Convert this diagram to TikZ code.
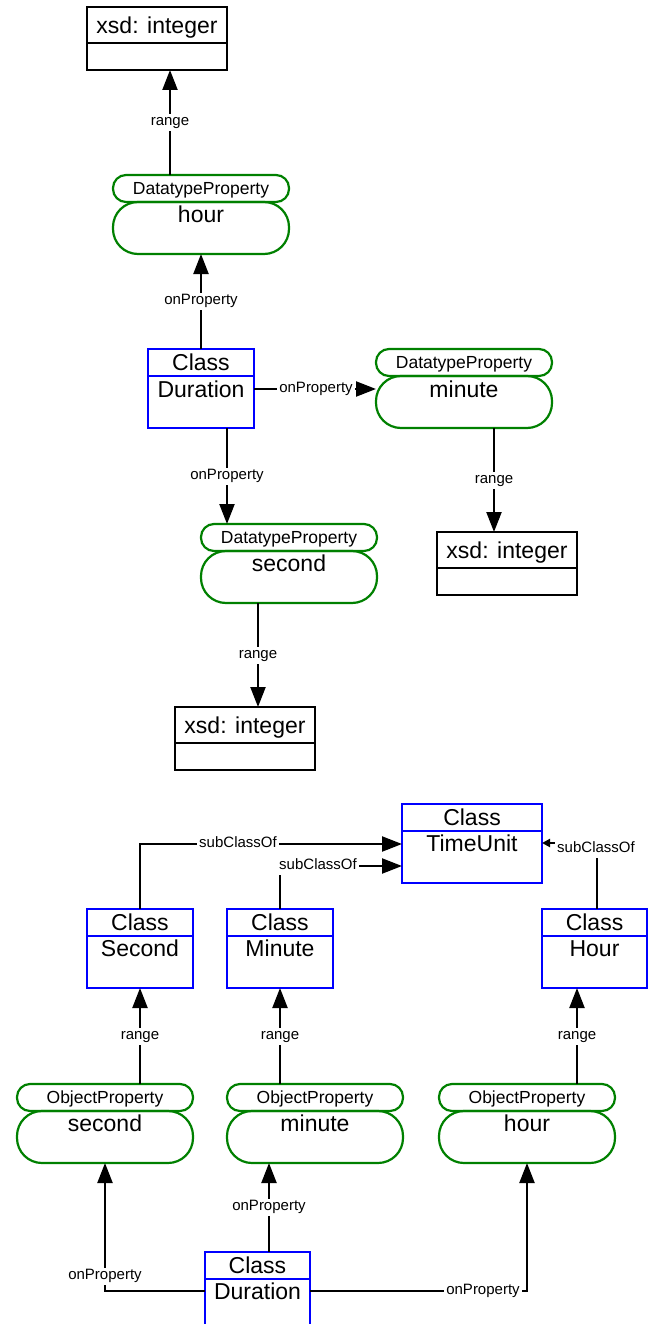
\documentclass[tikz,border=0pt]{standalone}
\usepackage{fontspec}
\setmainfont{Liberation Sans}
\usetikzlibrary{arrows.meta}
\definecolor{clsblue}{RGB}{0,0,255}
\definecolor{pgreen}{RGB}{0,128,0}
\tikzset{
  box/.style={draw, line width=2.2pt, inner sep=0pt, outer sep=0pt, anchor=north west},
  clshead/.style={box, draw=clsblue, minimum height=27pt, font=\fontsize{23}{26}\selectfont, text height=16.5pt, text depth=0pt},
  clsbody/.style={box, draw=clsblue, minimum height=52pt},
  xsdhead/.style={box, draw=black, minimum width=140pt, minimum height=36pt, font=\fontsize{23}{26}\selectfont, text height=16.5pt, text depth=0pt},
  xsdbody/.style={box, draw=black, minimum width=140pt, minimum height=27pt},
  pillhead/.style={box, draw=pgreen, rounded corners=13pt, minimum width=176pt, minimum height=27pt, font=\fontsize{17.5}{20}\selectfont, text height=12.5pt, text depth=0pt},
  pillbody/.style={box, draw=pgreen, rounded corners=25pt, minimum width=176pt, minimum height=52pt},
  main/.style={inner sep=0pt, font=\fontsize{23}{26}\selectfont, text height=16.5pt, text depth=0pt},
  lbl/.style={fill=white, inner xsep=2pt, inner ysep=2pt, font=\fontsize{15}{17}\selectfont, text height=9.5pt, text depth=3.5pt},
  conn/.style={line width=2.2pt},
  arr/.style={conn, -{Triangle[length=20pt,width=15pt]}},
  smallarr/.style={conn, -{Triangle[length=8pt,width=8pt]}},
}
\begin{document}
\begin{tikzpicture}[x=1pt,y=-1pt]
\useasboundingbox (0,0) rectangle (652,1324);
\clip (0,0) rectangle (652,1324);

% ---------- upper diagram ----------
\node[xsdhead] (xsdAh) at (87,7) {xsd: integer};
\node[xsdbody] (xsdAb) at (xsdAh.south west) {};

\node[pillhead] (hourDPh) at (113,175) {DatatypeProperty};
\node[pillbody] (hourDPb) at (hourDPh.south west) {};
\node[main] (hourDPt) at ([yshift=-12pt]hourDPb.north) {hour};

\node[clshead, minimum width=106pt] (durAh) at (148,349) {Class};
\node[clsbody, minimum width=106pt] (durAb) at (durAh.south west) {};
\node[main] (durAt) at ([yshift=-13pt]durAb.north) {Duration};

\node[pillhead] (minuteDPh) at (376,349) {DatatypeProperty};
\node[pillbody] (minuteDPb) at (minuteDPh.south west) {};
\node[main] (minuteDPt) at ([yshift=-13pt]minuteDPb.north) {minute};

\node[xsdhead] (xsdBh) at (437,532) {xsd: integer};
\node[xsdbody] (xsdBb) at (xsdBh.south west) {};

\node[pillhead] (secondDPh) at (201,524) {DatatypeProperty};
\node[pillbody] (secondDPb) at (secondDPh.south west) {};
\node[main] (secondDPt) at ([yshift=-12pt]secondDPb.north) {second};

\node[xsdhead] (xsdCh) at (175,707) {xsd: integer};
\node[xsdbody] (xsdCb) at (xsdCh.south west) {};

\draw[arr] (hourDPh.north -| 170,0) -- (xsdAb.south -| 170,0);
\node[lbl] (l1) at (170,123) {range};
\draw[arr] (durAh.north -| 201,0) -- (hourDPb.south -| 201,0);
\node[lbl] (l2) at (201,301) {onProperty};
\draw[arr] (durAb.east |- 0,389) -- (minuteDPb.west |- 0,389);
\node[lbl] (l3) at (316,389) {onProperty};
\draw[arr] (minuteDPb.south -| 494,0) -- (xsdBh.north -| 494,0);
\node[lbl] (l4) at (494,480) {range};
\draw[arr] (durAb.south -| 227,0) -- (secondDPh.north -| 227,0);
\node[lbl] (l5) at (227,476) {onProperty};
\draw[arr] (secondDPb.south -| 258,0) -- (xsdCh.north -| 258,0);
\node[lbl] (l6) at (258,655) {range};

% ---------- lower diagram ----------
\node[clshead, minimum width=140pt] (tuh) at (402,804) {Class};
\node[clsbody, minimum width=140pt] (tub) at (tuh.south west) {};
\node[main] (tut) at ([yshift=-12pt]tub.north) {TimeUnit};

\node[clshead, minimum width=106pt] (sech) at (87,909) {Class};
\node[clsbody, minimum width=106pt] (secb) at (sech.south west) {};
\node[main] (sect) at ([yshift=-12pt]secb.north) {Second};

\node[clshead, minimum width=106pt] (minh) at (227,909) {Class};
\node[clsbody, minimum width=106pt] (minb) at (minh.south west) {};
\node[main] (mint) at ([yshift=-12pt]minb.north) {Minute};

\node[clshead, minimum width=105pt] (hrh) at (542,909) {Class};
\node[clsbody, minimum width=105pt] (hrb) at (hrh.south west) {};
\node[main] (hrt) at ([yshift=-12pt]hrb.north) {Hour};

\node[pillhead] (secOPh) at (17,1084) {ObjectProperty};
\node[pillbody] (secOPb) at (secOPh.south west) {};
\node[main] (secOPt) at ([yshift=-12pt]secOPb.north) {second};

\node[pillhead] (minOPh) at (227,1084) {ObjectProperty};
\node[pillbody] (minOPb) at (minOPh.south west) {};
\node[main] (minOPt) at ([yshift=-12pt]minOPb.north) {minute};

\node[pillhead] (hrOPh) at (439,1084) {ObjectProperty};
\node[pillbody] (hrOPb) at (hrOPh.south west) {};
\node[main] (hrOPt) at ([yshift=-12pt]hrOPb.north) {hour};

\node[clshead, minimum width=105pt] (durBh) at (205,1252) {Class};
\node[clsbody, minimum width=105pt] (durBb) at (durBh.south west) {};
\node[main] (durBt) at ([yshift=-12pt]durBb.north) {Duration};

\draw[arr] (sech.north -| 140,0) |- (tub.west |- 0,844);
\node[lbl] (m1) at (238,844) {subClassOf};
\draw[arr] (minh.north -| 280,0) |- (tub.west |- 0,866);
\node[lbl] (m2) at (318,866) {subClassOf};
\draw[smallarr] (hrh.north -| 597,0) |- (tub.east |- 0,843);
\node[lbl] (m3) at (596,849) {subClassOf};

\draw[arr] (secOPh.north -| 140,0) -- (secb.south -| 140,0);
\node[lbl] (m4) at (140,1036) {range};
\draw[arr] (minOPh.north -| 280,0) -- (minb.south -| 280,0);
\node[lbl] (m5) at (280,1036) {range};
\draw[arr] (hrOPh.north -| 577,0) -- (hrb.south -| 577,0);
\node[lbl] (m6) at (577,1036) {range};

\draw[arr] (durBb.west |- 0,1291) -| (secOPb.south -| 105,0);
\node[lbl] (m7) at (105,1276) {onProperty};
\draw[arr] (durBh.north -| 269,0) -- (minOPb.south -| 269,0);
\node[lbl] (m8) at (269,1207) {onProperty};
\draw[arr] (durBb.east |- 0,1291) -| (hrOPb.south -| 527,0);
\node[lbl] (m9) at (483,1291) {onProperty};
\end{tikzpicture}
\end{document}
